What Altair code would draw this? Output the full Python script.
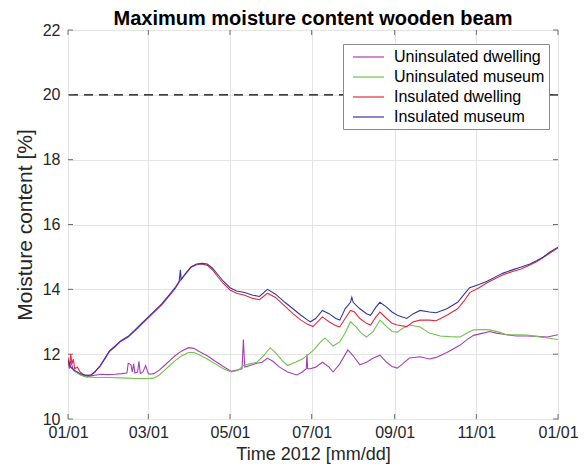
import altair as alt
import pandas as pd

series_names = ["Uninsulated dwelling", "Uninsulated museum", "Insulated dwelling", "Insulated museum"]
series_colors = ["#a43fb2", "#72c04e", "#e22a40", "#35369c"]

# day offsets from 2012-01-01 and moisture content [%]
ud_days = [0, 1, 2, 4, 6, 10, 14, 20, 25, 30, 35, 40, 44, 45, 47, 48, 49, 50, 52, 53, 54, 56, 58, 60, 61, 64, 68, 72, 76, 80, 85, 90, 94, 98, 104, 110, 116, 122, 127, 130, 131, 132, 136, 141, 145, 149, 153, 158, 164, 171, 175, 178, 178.5, 179, 181, 185, 190, 195, 198, 203, 209, 213, 218, 223, 228, 233, 238, 242, 246, 250, 255, 263, 270, 275, 283, 293, 298, 303, 310, 315, 320, 328, 335, 343, 350, 358, 366]
ud_vals = [11.85, 11.55, 11.8, 11.5, 11.45, 11.35, 11.3, 11.35, 11.38, 11.37, 11.38, 11.4, 11.42, 11.72, 11.68, 11.45, 11.7, 11.42, 11.45, 11.78, 11.4, 11.45, 11.65, 11.4, 11.38, 11.4, 11.5, 11.65, 11.8, 11.95, 12.1, 12.2, 12.18, 12.08, 11.95, 11.78, 11.62, 11.47, 11.52, 11.55, 12.45, 11.6, 11.65, 11.72, 11.75, 11.88, 11.78, 11.6, 11.45, 11.36, 11.45, 11.55, 12.0, 11.55, 11.55, 11.6, 11.75, 11.6, 11.45, 11.7, 12.13, 11.95, 11.67, 11.75, 11.88, 11.97, 11.75, 11.62, 11.57, 11.7, 11.88, 11.92, 11.85, 11.9, 12.05, 12.28, 12.45, 12.58, 12.65, 12.7, 12.65, 12.6, 12.56, 12.56, 12.55, 12.53, 12.6]

um_days = [0, 3, 6, 10, 14, 20, 30, 40, 50, 60, 64, 68, 72, 76, 80, 85, 90, 94, 98, 104, 110, 116, 122, 127, 131, 136, 141, 146, 151, 155, 160, 164, 170, 175, 179, 184, 188, 192, 198, 203, 207, 211, 215, 219, 223, 228, 233, 238, 242, 246, 250, 255, 263, 270, 278, 285, 293, 298, 303, 310, 315, 322, 328, 335, 343, 350, 358, 366]
um_vals = [11.75, 11.55, 11.45, 11.35, 11.3, 11.28, 11.28, 11.27, 11.25, 11.25, 11.26, 11.35, 11.5, 11.65, 11.8, 11.95, 12.05, 12.05, 11.98, 11.85, 11.7, 11.55, 11.45, 11.5, 11.65, 11.7, 11.75, 11.95, 12.2, 12.05, 11.8, 11.65, 11.75, 11.85, 11.97, 12.15, 12.35, 12.5, 12.25, 12.38, 12.65, 13.0, 12.85, 12.65, 12.53, 12.7, 13.05, 12.85, 12.7, 12.68, 12.8, 12.9, 12.84, 12.65, 12.56, 12.54, 12.53, 12.65, 12.75, 12.76, 12.75, 12.68, 12.59, 12.6, 12.59, 12.55, 12.5, 12.45]

id_days = [0, 1, 2, 3, 4, 5, 7, 9, 12, 17, 20, 24, 28, 31, 35, 39, 45, 50, 55, 60, 65, 70, 75, 80, 84, 88, 92, 96, 100, 104, 108, 112, 116, 121, 126, 132, 138, 143, 149, 155, 162, 168, 174, 179, 183, 190, 195, 200, 203, 207, 211, 214, 218, 223, 226, 230, 233, 238, 242, 246, 253, 258, 263, 270, 275, 283, 291, 296, 300, 307, 313, 320, 325, 332, 338, 345, 350, 355, 360, 366]
id_vals = [11.9, 11.6, 12.0, 11.7, 11.85, 11.55, 11.6, 11.45, 11.35, 11.35, 11.45, 11.62, 11.88, 12.08, 12.22, 12.38, 12.53, 12.72, 12.92, 13.12, 13.32, 13.52, 13.77, 14.02, 14.28, 14.48, 14.68, 14.76, 14.78, 14.74, 14.6, 14.38, 14.18, 13.98, 13.88, 13.82, 13.72, 13.68, 13.88, 13.75, 13.48, 13.25, 13.05, 12.92, 12.85, 13.15, 13.0, 12.88, 12.84, 13.1, 13.35, 13.3, 13.1, 12.95, 12.9, 13.15, 13.3, 13.1, 12.95, 12.9, 12.85, 13.0, 13.05, 13.05, 13.03, 13.2, 13.4, 13.65, 13.9, 14.05, 14.2, 14.35, 14.45, 14.55, 14.62, 14.75, 14.85, 14.98, 15.12, 15.28]

im_days = [0, 2, 5, 9, 13, 17, 20, 24, 28, 31, 35, 39, 45, 50, 55, 60, 65, 70, 75, 80, 83, 84, 84.5, 88, 92, 96, 100, 104, 108, 112, 116, 121, 126, 132, 138, 143, 149, 155, 162, 168, 174, 179, 181, 185, 190, 195, 200, 203, 207, 211, 212, 213, 218, 223, 226, 230, 233, 238, 242, 246, 253, 258, 263, 270, 275, 283, 291, 296, 300, 307, 313, 320, 325, 332, 338, 345, 350, 355, 360, 366]
im_vals = [11.8, 11.6, 11.5, 11.4, 11.35, 11.35, 11.45, 11.65, 11.9, 12.1, 12.25, 12.4, 12.55, 12.75, 12.95, 13.15, 13.35, 13.55, 13.8, 14.05, 14.25, 14.6, 14.3, 14.5, 14.7, 14.78, 14.8, 14.78, 14.65, 14.45, 14.25, 14.05, 13.95, 13.9, 13.82, 13.78, 14.0, 13.85, 13.6, 13.4, 13.2, 13.05, 13.0, 13.1, 13.35, 13.25, 13.1, 13.05, 13.4, 13.6, 13.75, 13.6, 13.4, 13.25, 13.2, 13.45, 13.6, 13.45, 13.3, 13.2, 13.1, 13.25, 13.35, 13.3, 13.28, 13.4, 13.6, 13.85, 14.05, 14.15, 14.25, 14.4, 14.5, 14.6, 14.68, 14.78, 14.88, 15.0, 15.15, 15.3]

x_ticks = ["2012-01-01", "2012-03-01", "2012-05-01", "2012-07-01", "2012-09-01", "2012-11-01", "2013-01-01"]
y_ticks = [10, 12, 14, 16, 18, 20, 22]
limit_value = [20]

base = pd.Timestamp("2012-01-01")
frames = []
for i, (name, days, vals) in enumerate(zip(series_names,
                                            [ud_days, um_days, id_days, im_days],
                                            [ud_vals, um_vals, id_vals, im_vals])):
    frames.append(pd.DataFrame({
        "date": base + pd.to_timedelta(days, unit="D"),
        "value": vals,
        "series": name,
    }))
df = pd.concat(frames, ignore_index=True)
df["date"] = df["date"].dt.strftime("%Y-%m-%dT%H:%M:%S")

xt_df = pd.DataFrame({"date": [t + "T00:00:00" for t in x_ticks]})
yt_df = pd.DataFrame({"v": y_ticks})

FONT = "Liberation Sans"
TXT = "#262626"
W, H = 490, 389
TICK = 5
TICK_COLOR = "#6e6e6e"

x_scale = alt.Scale(domain=[x_ticks[0] + "T00:00:00", x_ticks[-1] + "T00:00:00"])
y_scale = alt.Scale(domain=[10, 22], nice=False, zero=False)

lines = alt.Chart(df).mark_line(strokeWidth=1.1, clip=True).encode(
    x=alt.X("date:T", scale=x_scale, title="Time 2012 [mm/dd]",
            axis=alt.Axis(values=[t + "T00:00:00" for t in x_ticks], format="%m/%d",
                          labelFlush=False, titleFontSize=18)),
    y=alt.Y("value:Q", scale=y_scale, title="Moisture content [%]",
            axis=alt.Axis(values=y_ticks, titleFontSize=21)),
    color=alt.Color("series:N", scale=alt.Scale(domain=series_names, range=series_colors),
                    legend=alt.Legend(title=None)),
    detail="series:N",
)

limit = alt.Chart(pd.DataFrame({"y": limit_value})).mark_rule(
    color="black", strokeDash=[9, 6], strokeWidth=1.3
).encode(y=alt.Y("y:Q", scale=y_scale))

# inward tick marks (MATLAB style) on all four sides
xt_bottom = alt.Chart(xt_df).mark_rule(color=TICK_COLOR, strokeWidth=1).encode(
    x=alt.X("date:T", scale=x_scale), y=alt.value(H), y2=alt.value(H - TICK))
xt_top = alt.Chart(xt_df).mark_rule(color=TICK_COLOR, strokeWidth=1).encode(
    x=alt.X("date:T", scale=x_scale), y=alt.value(0), y2=alt.value(TICK))
yt_left = alt.Chart(yt_df).mark_rule(color=TICK_COLOR, strokeWidth=1).encode(
    y=alt.Y("v:Q", scale=y_scale), x=alt.value(0), x2=alt.value(TICK))
yt_right = alt.Chart(yt_df).mark_rule(color=TICK_COLOR, strokeWidth=1).encode(
    y=alt.Y("v:Q", scale=y_scale), x=alt.value(W), x2=alt.value(W - TICK))

chart = alt.layer(limit, xt_bottom, xt_top, yt_left, yt_right, lines).properties(
    width=W, height=H,
    title=alt.Title("Maximum moisture content wooden beam", fontSize=20, fontWeight="bold",
                    font=FONT, color="black", offset=-7),
    autosize=alt.AutoSizeParams(type="none"),
    padding={"left": 60, "top": 22, "right": 21, "bottom": 46},
).configure_view(
    stroke="#6e6e6e", strokeWidth=1
).configure_axis(
    labelFont=FONT, titleFont=FONT, labelColor=TXT, titleColor=TXT,
    labelFontSize=16, titleFontWeight="normal",
    grid=True, gridColor="#e4e4e4", gridWidth=1,
    domain=False, ticks=False,
).configure_axisX(
    labelPadding=5, titlePadding=5,
).configure_axisY(
    labelPadding=8, titlePadding=7,
).configure_legend(
    orient="none", legendX=275, legendY=14,
    fillColor="white", strokeColor="#8a8a8a", padding=4,
    labelFont=FONT, labelFontSize=16, labelColor="black",
    symbolType="M-0.375,0H3.5", symbolSize=256, symbolStrokeWidth=1.2,
    rowPadding=3, labelOffset=29, cornerRadius=0,
)

chart.save("out.html", embed_options={"renderer": "svg", "actions": False})
